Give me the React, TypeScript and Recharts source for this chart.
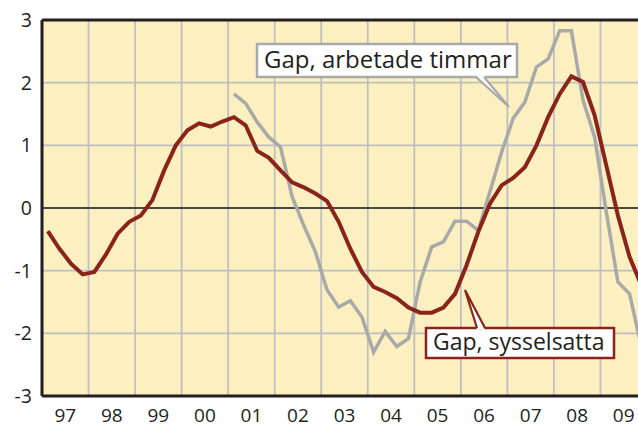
import { CartesianGrid, Line, LineChart, ReferenceLine, XAxis, YAxis } from 'recharts';

// quarterly gaps, 1997Q1 - 2009Q4
const years = ['97', '98', '99', '00', '01', '02', '03', '04', '05', '06', '07', '08', '09'];

const sysselsatta = [
  -0.37, -0.65, -0.89, -1.06,
  -1.02, -0.74, -0.41, -0.22,
  -0.12, 0.13, 0.6, 1.0,
  1.24, 1.35, 1.3, 1.38,
  1.45, 1.32, 0.91, 0.8,
  0.6, 0.41, 0.33, 0.23,
  0.11, -0.22, -0.65, -1.02,
  -1.26, -1.34, -1.44, -1.59,
  -1.67, -1.67, -1.59, -1.37,
  -0.91, -0.38, 0.07, 0.36,
  0.48, 0.65, 1.0, 1.45,
  1.82, 2.1, 2.01, 1.48,
  0.68, -0.12, -0.78, -1.23,
];

const arbetadeTimmar = [
  null, null, null, null,
  null, null, null, null,
  null, null, null, null,
  null, null, null, null,
  1.82, 1.67, 1.37, 1.13,
  0.97, 0.18, -0.28, -0.7,
  -1.31, -1.58, -1.48, -1.74,
  -2.3, -1.97, -2.21, -2.08,
  -1.18, -0.62, -0.54, -0.21,
  -0.21, -0.36, 0.26, 0.89,
  1.43, 1.69, 2.25, 2.38,
  2.83, 2.83, 1.72, 1.13,
  -0.06, -1.18, -1.37, -2.2,
];

const yTicks = [-3, -2, -1, 0, 1, 2, 3];

const data = sysselsatta.map((v, i) => ({
  q: i + 0.5,
  sysselsatta: v,
  arbetadeTimmar: arbetadeTimmar[i],
}));

const yearTicks = years.map((_, i) => i * 4 + 2);
const yearBounds = years.slice(1).map((_, i) => (i + 1) * 4);

const FONT = '"Open Sans", sans-serif';
const INK = '#231F20';
const GRID = '#BFBFC2';
const RED = '#8A231A';
const GRAY = '#A9A9A9';

export default function App() {
  return (
    <div
      style={{
        position: 'absolute',
        left: 0,
        top: 0,
        width: 638,
        height: 430,
        overflow: 'hidden',
        background: '#fff',
        fontFamily: FONT,
      }}
    >
      <LineChart width={660} height={430} data={data} margin={{ top: 20, right: 13, bottom: 0, left: 0 }}>
        <CartesianGrid fill="#FCF0C0" stroke={GRID} strokeWidth={1.8} vertical={false} />
        {yearBounds.map((x) => (
          <ReferenceLine key={x} x={x} stroke={GRID} strokeWidth={1.8} />
        ))}
        <ReferenceLine y={0} stroke={INK} strokeWidth={1.3} />
        <ReferenceLine y={3} stroke={INK} strokeWidth={3} />
        <XAxis
          type="number"
          dataKey="q"
          domain={[0, 52]}
          ticks={yearTicks}
          tickFormatter={(v) => years[(Number(v) - 2) / 4]}
          height={34}
          tickLine={false}
          tickMargin={7}
          axisLine={{ stroke: INK, strokeWidth: 3 }}
          tick={{ fontSize: 19, fill: INK, fontFamily: FONT }}
        />
        <YAxis
          domain={[-3, 3]}
          ticks={yTicks}
          width={42}
          tickLine={false}
          tickMargin={4}
          axisLine={{ stroke: INK, strokeWidth: 3 }}
          tick={{ fontSize: 19.5, fill: INK, fontFamily: FONT }}
        />
        <Line
          type="linear"
          dataKey="arbetadeTimmar"
          stroke={GRAY}
          strokeWidth={3.5}
          dot={false}
          isAnimationActive={false}
        />
        <Line
          type="linear"
          dataKey="sysselsatta"
          stroke={RED}
          strokeWidth={4}
          dot={false}
          isAnimationActive={false}
        />
      </LineChart>
      <svg
        width={638}
        height={430}
        style={{ position: 'absolute', left: 0, top: 0, pointerEvents: 'none' }}
      >
        {/* callout: arbetade timmar */}
        <rect x={257} y={44} width={260} height={33} fill="#fff" stroke={GRAY} strokeWidth={2.5} />
        <polygon points="476,75.5 484,75.5 509,107" fill="#fff" />
        <polyline points="476,77 509,107 484,77" fill="none" stroke={GRAY} strokeWidth={2.2} />
        <text x={264} y={68} fontSize={24} fill={INK} fontFamily={FONT}>
          Gap, arbetade timmar
        </text>
        {/* callout: sysselsatta */}
        <rect x={426} y={328} width={188} height={30} fill="#fff" stroke={RED} strokeWidth={2.5} />
        <polygon points="477,329.5 485,329.5 465,290" fill="#fff" />
        <polyline points="477,328 465,290 485,328" fill="none" stroke={RED} strokeWidth={2.2} />
        <text x={433} y={350} fontSize={23} fill={INK} fontFamily={FONT}>
          Gap, sysselsatta
        </text>
      </svg>
    </div>
  );
}
